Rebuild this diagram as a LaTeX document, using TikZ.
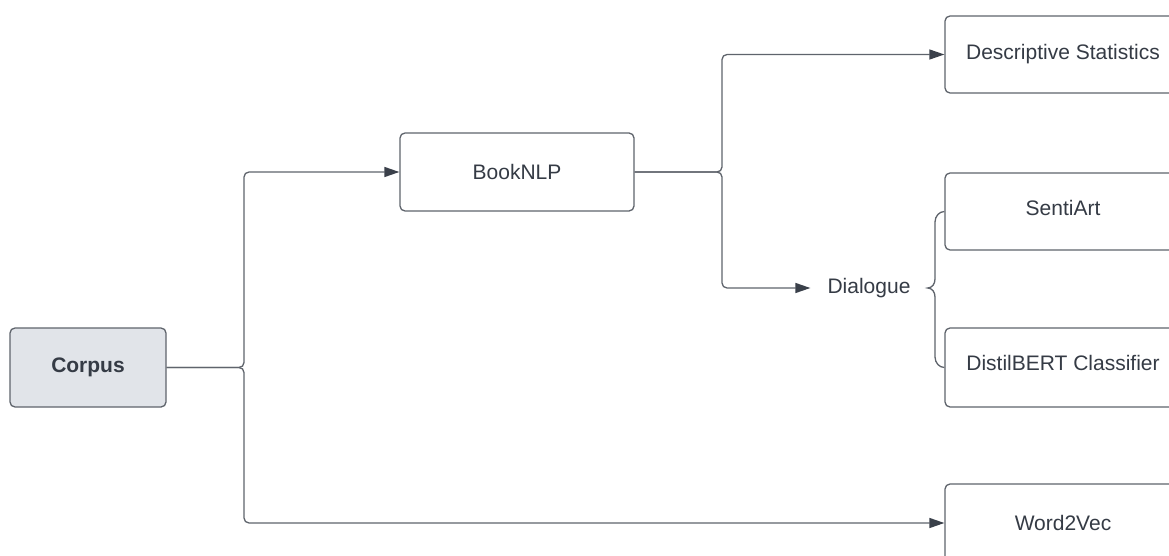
\documentclass[tikz,border=0pt]{standalone}
\usepackage{fontspec}
\setmainfont{Liberation Sans}
\usetikzlibrary{arrows.meta}
\definecolor{linec}{HTML}{5F646C}
\definecolor{textc}{HTML}{353B45}
\definecolor{tipc}{HTML}{3A404A}
\definecolor{corpusfill}{HTML}{E1E4E9}
\tikzset{
  box/.style={draw=linec, line width=1.3pt, rounded corners=5pt, text=textc, inner sep=0pt, font=\fontsize{21}{25}\selectfont},
  conn/.style={draw=linec, line width=1.3pt, rounded corners=5pt, -{Triangle[length=15pt,width=10pt,color=tipc]}},
  lbl/.style={text=textc, inner ysep=0pt, inner xsep=17pt, font=\fontsize{21}{25}\selectfont}
}
\begin{document}
\begin{tikzpicture}[x=1pt,y=-1pt]
\useasboundingbox (0,0) rectangle (1169,556);
\clip (0,0) rectangle (1169,556);
\fill[white] (0,0) rectangle (1169,556);
\node[box, fill=corpusfill, minimum width=156pt, minimum height=79pt, font=\fontsize{21}{25}\selectfont\bfseries] (corpus) at (88,367.5) {Corpus};
\node[box, minimum width=234pt, minimum height=78pt] (book) at (517,172) {BookNLP};
\node[box, minimum width=236pt, minimum height=77pt] (desc) at (1063,54.5) {Descriptive Statistics};
\node[box, minimum width=236pt, minimum height=77pt] (senti) at (1063,211.5) {};
\node[text=textc, font=\fontsize{21}{25}\selectfont] at (1063,208) {SentiArt};
\node[box, minimum width=236pt, minimum height=79pt] (distil) at (1063,367.5) {};
\node[text=textc, font=\fontsize{21}{25}\selectfont] at (1063,363) {DistilBERT Classifier};
\node[box, minimum width=236pt, minimum height=78pt] (w2v) at (1063,523) {Word2Vec};
\node[lbl] (dlg) at (869,288) {Dialogue};
\coordinate (ja) at (244,367.5);
\coordinate (jb) at (722,172);
\draw[conn] (corpus.east) -- (ja) |- (book.west);
\draw[conn] (corpus.east) -- (ja) |- (w2v.west);
\draw[conn] (book.east) -- (jb) |- (desc.west);
\draw[conn] (book.east) -- (jb) |- (dlg.west);
\draw[line width=1.3pt, draw=linec] (senti.west) .. controls (939.5,211.5) and (935,216) .. (935,222)
  -- (935,279) .. controls (935,284) and (932,288) .. (dlg.east)
  .. controls (932,288) and (935,292) .. (935,297)
  -- (935,357) .. controls (935,363) and (939.5,367.5) .. (distil.west);
\end{tikzpicture}
\end{document}
